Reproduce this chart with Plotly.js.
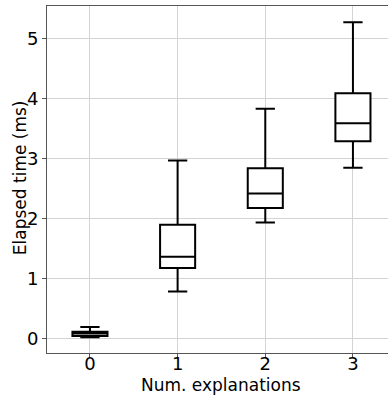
<!DOCTYPE html>
<html>
<head>
<meta charset="utf-8">
<script src="https://cdn.plot.ly/plotly-3.0.1.min.js"></script>
<style>html,body{margin:0;padding:0;background:#fff;}#chart{width:388px;height:395px;}</style>
</head>
<body>
<div id="chart"></div>
<script>
// Data (elapsed time in ms)
const numExplanations = [0, 1, 2, 3];
const lowerWhisker = [0.03, 0.79, 1.94, 2.85];
const q1Values = [0.05, 1.18, 2.18, 3.29];
const medianValues = [0.09, 1.37, 2.42, 3.59];
const q3Values = [0.12, 1.90, 2.84, 4.09];
const upperWhisker = [0.20, 2.97, 3.83, 5.27];
const xTickLabels = ['0', '1', '2', '3'];
const yTickValues = [0, 1, 2, 3, 4, 5];
const xTitle = 'Num. explanations';
const yTitle = 'Elapsed time (ms)';

const trace = {
  type: 'box',
  x: numExplanations,
  q1: q1Values,
  median: medianValues,
  q3: q3Values,
  lowerfence: lowerWhisker,
  upperfence: upperWhisker,
  width: 0.4,
  whiskerwidth: 0.55,
  fillcolor: '#ffffff',
  line: {color: '#000000', width: 2},
  boxpoints: false,
  hoverinfo: 'skip',
  showlegend: false
};

const fontFamily = 'DejaVu Sans, sans-serif';
const layout = {
  width: 388,
  height: 395,
  margin: {l: 47, r: 0, t: 6, b: 42, pad: 0},
  paper_bgcolor: '#ffffff',
  plot_bgcolor: '#ffffff',
  font: {family: fontFamily, color: '#000000', size: 17},
  xaxis: {
    range: [-0.49, 3.40],
    tickvals: numExplanations,
    ticktext: xTickLabels,
    showgrid: true,
    gridcolor: '#d3d3d3',
    gridwidth: 1,
    zeroline: false,
    showline: true,
    linecolor: '#555555',
    linewidth: 1,
    mirror: true,
    ticks: 'outside',
    ticklen: 4,
    tickcolor: '#555555',
    ticklabelstandoff: -10,
    tickfont: {size: 18, family: fontFamily, color: '#000'}
  },
  yaxis: {
    range: [-0.233, 5.54],
    tickvals: yTickValues,
    showgrid: true,
    gridcolor: '#d3d3d3',
    gridwidth: 1,
    zeroline: false,
    showline: true,
    linecolor: '#555555',
    linewidth: 1,
    mirror: false,
    ticks: 'outside',
    ticklen: 4,
    tickcolor: '#555555',
    tickfont: {size: 18, family: fontFamily, color: '#000'}
  },
  annotations: [
    {text: xTitle, xref: 'paper', yref: 'paper', x: 0.51, y: -0.092, xanchor: 'center', yanchor: 'middle',
     showarrow: false, font: {size: 17, family: fontFamily, color: '#000'}},
    {text: yTitle, xref: 'paper', yref: 'paper', x: -0.079, y: 0.504, xanchor: 'center', yanchor: 'middle',
     textangle: -90, showarrow: false, font: {size: 17, family: fontFamily, color: '#000'}}
  ]
};

Plotly.newPlot('chart', [trace], layout, {staticPlot: true, displayModeBar: false});
</script>
</body>
</html>
